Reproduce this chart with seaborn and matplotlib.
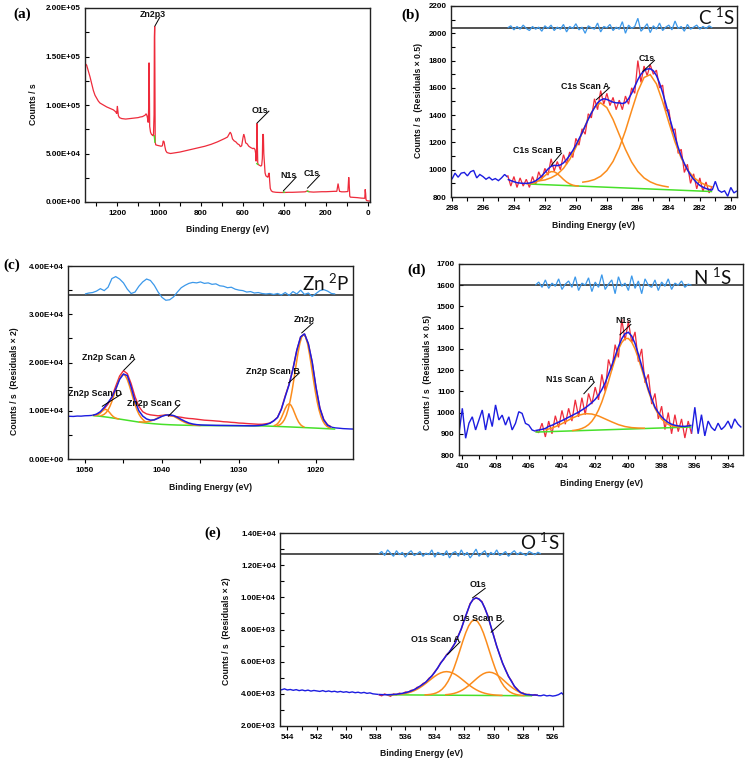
import numpy as np
import matplotlib
matplotlib.use("Agg")
import matplotlib.pyplot as plt
import seaborn as sns
from matplotlib.ticker import MultipleLocator, FuncFormatter

sns.set_theme(style="ticks")
plt.rcParams['font.family'] = ['Liberation Sans', 'DejaVu Sans']
plt.rcParams['font.weight'] = 'bold'
plt.rcParams['mathtext.default'] = 'regular'
plt.rcParams['lines.solid_joinstyle'] = 'miter'
plt.rcParams['lines.solid_capstyle'] = 'butt'

# ---------------- DATA ----------------
# (a) survey: binding energy (eV) and counts (x1000)
a_be = [1355, 1347, 1339, 1331, 1323, 1315, 1307, 1299, 1291, 1283, 1267, 1251, 1235, 1219, 1208, 1203,
        1200, 1198, 1195, 1190, 1179, 1160, 1139, 1120, 1100, 1091, 1080, 1067, 1062, 1058, 1055, 1052,
        1049.5, 1048, 1046.5, 1045, 1041, 1036, 1031, 1027, 1024, 1022.5, 1021, 1019.5, 1018.5, 1016, 1010,
        1000, 990, 984, 980, 976, 972, 968, 962, 955, 945, 930, 900, 870, 840, 810, 780, 750, 720, 700,
        685, 672, 664, 659, 654, 648, 640, 632, 624, 616, 610, 604, 598, 594, 590, 585, 578, 570, 560,
        550, 545, 540, 537, 535, 533, 531, 529, 527, 524, 520, 516, 512, 508, 505, 503, 500, 498, 495,
        492, 488, 482, 478, 475, 472, 470, 467, 462, 455, 440, 420, 400, 380, 360, 340, 320, 300, 290,
        285, 280, 260, 240, 220, 200, 180, 160, 148, 142, 139, 135, 125, 110, 95, 91, 89, 86, 83, 70,
        50, 30, 14, 12, 10, 8, 5, 0, -11]
a_kcps = [143, 141, 135, 129, 122, 115, 110, 107, 104, 102, 100, 98, 96.5, 95, 93, 91,
          99, 95, 89, 87, 86, 85.5, 86, 86.5, 87, 87.6, 88, 89.5, 91, 89, 86, 82,
          100, 143.6, 120, 78, 72, 69.5, 69, 68, 90, 170, 181, 120, 62, 59, 58.5,
          58, 57.5, 58, 63, 62, 57, 53, 51, 50.5, 50, 50.5, 51.5, 53, 54.5, 56, 57.5, 59.5, 62, 64,
          65.5, 67, 70, 72, 70, 65, 63, 62, 60, 59, 57, 58, 66, 70, 67, 61, 60, 57.5, 56,
          55, 55.5, 54, 50, 42, 48, 81, 60, 40, 38.5, 38, 37.5, 37, 38, 45, 70, 69, 50, 40,
          30, 27, 26, 25.5, 29, 30, 22, 14, 11.5, 10.5, 10, 9.8, 9.8, 10, 10, 10.2, 10.4, 10.5, 11.5,
          11, 10.5, 10.2, 10.4, 10.6, 10.6, 10.8, 11, 11, 19, 15, 11, 10.5, 10.5, 10.8, 25.5, 20, 6, 5, 4.8,
          4.5, 4, 3.8, 13, 9, 2.5, 1.5, 1.2, 1]
a_bg_segments = [([1023.5, 1019.5], [69, 61]), ([534, 525], [40, 38.5]),
                 ([407, 396], [10.5, 10]), ([292, 280], [11.2, 10.6])]

# (b) C 1s  (grids: start eV, step eV)
b_raw_left = [930, 975, 945, 975, 980, 955, 985, 995, 940, 965, 950, 930, 945, 925, 935, 920, 940, 965, 945]
b_red = [960, 880, 950, 870, 940, 880, 930, 870, 950, 890,
         985, 930, 1010, 960, 1080, 990, 1060, 1000, 1110, 1040,
         1130, 1090, 1230, 1180, 1300, 1260, 1410, 1380, 1520, 1440,
         1580, 1480, 1560, 1470, 1530, 1440, 1510, 1440, 1540, 1480,
         1600, 1560, 1800, 1640, 1760, 1690, 1770, 1700, 1730, 1600,
         1620, 1430, 1440, 1280, 1300, 1120, 1150, 980, 1040, 900,
         970, 860, 940, 840, 910, 830, 880]
b_env = [930, 920, 912, 905, 902, 900, 900, 902, 908, 918,
         935, 955, 980, 1005, 1025, 1032, 1030, 1035, 1050, 1075,
         1105, 1140, 1180, 1225, 1270, 1320, 1370, 1415, 1455, 1490,
         1510, 1520, 1515, 1505, 1495, 1490, 1490, 1485, 1492, 1520,
         1560, 1610, 1660, 1700, 1725, 1738, 1740, 1725, 1690, 1635,
         1565, 1485, 1400, 1320, 1240, 1165, 1100, 1045, 1000, 960,
         930, 905, 885, 872, 862, 855, 850]
b_raw_right = [850, 915, 850, 835, 845, 805, 870, 830, 845]
b_res = [2040, 2055, 2025, 2050, 2030, 2060, 2035, 2020, 2050, 2030,
         2045, 2015, 2055, 2035, 2060, 2020, 2045, 2030, 2065, 2010,
         2050, 2035, 2070, 2025, 2045, 2000, 2055, 2040, 2030, 2075,
         2010, 2050, 2040, 2065, 2020, 2045, 2030, 2085, 2000, 2060,
         2035, 2050, 2110, 2015, 2040, 2070, 2005, 2055, 2030, 2075,
         2020, 2045, 2060, 2025, 2090, 2035, 2050, 2015, 2065, 2030,
         2045, 2060, 2030, 2050, 2035, 2055, 2040]
b_bg_be = [293.0, 281.2]
b_bg = [895, 840]
b_scanB = [897, 897, 900, 907, 919, 936, 956, 975, 986, 985, 972, 951, 929, 910, 896, 887, 882, 880]
b_scanA = [918, 925, 941, 966, 1010, 1075, 1164, 1268, 1375, 1458, 1490, 1455, 1368, 1257, 1149,
           1056, 987, 940, 911, 892, 881, 873]
b_c1s = [908, 915, 928, 952, 994, 1061, 1159, 1286, 1433, 1575, 1676, 1697, 1629, 1499, 1347,
         1203, 1085, 1000, 944, 908, 887, 873]

# (c) Zn 2p
c_raw_left = [8780, 8850, 8820, 8900, 8880, 8960, 8990, 9050]
c_red = [9050, 9200, 9650, 10400, 11400, 12900, 15100, 17200, 18300, 17700,
         15600, 12900, 10900, 9800, 9350, 9150, 9050, 8950, 9050, 9100,
         8950, 8900, 8750, 8650, 8500, 8400, 8350, 8250, 8150, 8050,
         8000, 7950, 7880, 7820, 7720, 7680, 7600, 7550, 7450, 7420,
         7350, 7300, 7250, 7200, 7200, 7300, 7450, 7900, 8650, 10400,
         13100, 15500, 18700, 22500, 25300, 25900, 23900, 20100, 14800, 10600,
         8200, 7100, 6650]
c_env = [9050, 9300, 9800, 10700, 11700, 12800, 14500, 16500, 17600, 17300,
         14900, 12000, 10000, 8900, 8300, 8050, 8100, 8450, 8850, 9100,
         9150, 9000, 8650, 8200, 7800, 7450, 7250, 7120, 7060, 7030,
         7010, 6990, 6970, 6960, 6950, 6940, 6930, 6920, 6910, 6900,
         6890, 6880, 6880, 6920, 7000, 7150, 7400, 7900, 8600, 10300,
         12900, 15400, 18600, 22500, 25300, 25950, 23900, 20100, 14800, 10500,
         8100, 7000, 6600]
c_raw_right = [6600, 6450, 6380, 6300, 6260, 6220, 6200, 6170]
c_res = [34200, 34400, 34500, 34800, 35300, 34900, 35600, 37400, 37800, 37300,
         36500, 35200, 34300, 34600, 35800, 36700, 37300, 37000, 36000, 34600,
         33500, 32900, 33000, 33600, 34600, 35500, 36000, 36400, 36600, 36500,
         36700, 36400, 36500, 36200, 36300, 35900, 35800, 35500, 35600, 35200,
         35000, 34900, 34600, 34700, 34400, 34500, 34300, 34200, 34300, 34100,
         34300, 34000, 34500, 33900, 34700, 34200, 35000, 34100, 34400, 33700,
         34300, 34900, 35100, 34800, 34300, 34200]
c_bg_be = [1049, 1048, 1047, 1046, 1045, 1044, 1043, 1042, 1041, 1040, 1039, 1038, 1037, 1036,
           1035, 1030, 1027, 1025, 1022, 1020, 1017.5]
c_bg = [9000, 8850, 8650, 8400, 8150, 7900, 7650, 7450, 7300, 7180, 7100, 7040, 7000, 6960,
        6930, 6900, 6860, 6750, 6550, 6400, 6200]
c_scanD = [8999, 9032, 9172, 9454, 9840, 10183, 10290, 10077, 9628, 9136, 8748, 8502, 8363, 8280]
c_scanA = [8960, 9062, 9268, 9623, 10163, 10937, 11937, 13115, 14397, 15632, 16669, 17349, 17550,
           17243, 16457, 15314, 13973, 12585, 11301, 10195, 9315, 8669, 8208, 7830, 7624]
c_scanC = [7690, 7657, 7694, 7858, 8153, 8538, 8904, 9141, 9128, 8866, 8428, 7957, 7553, 7269,
           7088, 6996, 6947]
c_scanB = [6889, 7021, 7302, 7807, 8553, 9495, 10458, 11184, 11445, 11149, 10388, 9390, 8413,
           7632, 7092, 6776, 6609]
c_main = [6884, 6991, 7205, 7574, 8173, 9083, 10396, 12136, 14279, 16771, 19378, 21889, 23975,
          25342, 25812, 25307, 23905, 21784, 19238, 16596, 14069, 11891, 10116, 8768, 7823, 7189,
          6785, 6536, 6394]

# (d) N 1s
d_raw_left = [902, 1020, 879, 950, 980, 918, 965, 1012, 918, 996, 934, 1036, 965, 988, 941, 980,
              918, 949, 1004, 996, 949, 941, 918, 912]
d_red = [915, 905, 950, 885, 960, 900, 985, 930, 1010, 945, 1020, 960, 1060, 980, 1070, 990,
         1090, 1040, 1120, 1060, 1180, 1100, 1250, 1200, 1320, 1260, 1440, 1340, 1430, 1330,
         1380, 1240, 1300, 1140, 1180, 1040, 1090, 970, 1030, 920, 1000, 900, 990, 910, 970,
         880, 960, 900]
d_env = [915, 918, 921, 925, 935, 940, 948, 955, 962, 970, 978, 986, 994, 1002, 1012, 1022,
         1034, 1047, 1062, 1082, 1108, 1140, 1180, 1222, 1265, 1310, 1348, 1372, 1378, 1360,
         1325, 1275, 1220, 1165, 1110, 1065, 1025, 1000, 980, 965, 953, 945, 940, 937, 935,
         935, 937, 940]
d_raw_right = [900, 1025, 900, 990, 890, 960, 930, 915, 950, 920, 935, 960, 925, 970, 945, 930]
d_res = [1600, 1615, 1590, 1625, 1585, 1610, 1595, 1630, 1580, 1605,
         1620, 1590, 1640, 1575, 1610, 1600, 1635, 1570, 1615, 1590,
         1650, 1580, 1605, 1625, 1560, 1640, 1595, 1610, 1575, 1645,
         1585, 1620, 1560, 1630, 1600, 1590, 1625, 1575, 1615, 1595,
         1630, 1580, 1610, 1600, 1620, 1590, 1605, 1600]
d_bg_be = [405.6, 396.2]
d_bg = [908, 932]
d_scanA = [918, 927, 940, 956, 973, 987, 995, 993, 984, 970, 956, 943, 934, 929, 927, 926]
d_main = [915, 917, 920, 925, 932, 943, 959, 982, 1012, 1050, 1096, 1147, 1201, 1252, 1298,
          1330, 1349, 1349, 1332, 1300, 1256, 1205, 1153, 1102, 1058, 1020, 992, 969, 955,
          944, 938, 935, 933, 932]

# (e) O 1s
e_raw_left = [4290, 4250, 4310, 4240, 4270, 4220, 4260, 4200, 4240, 4190, 4230, 4170, 4210, 4180,
              4150, 4200, 4140, 4180, 4130, 4160, 4110, 4150, 4100, 4130, 4080, 4120, 4070, 4100,
              4050, 4090, 4030, 4060, 4000, 3980, 3960]
e_red = [3940, 3880, 3990, 3920, 3850, 3990, 3940, 4040, 3990, 4110,
         4090, 4220, 4230, 4400, 4450, 4640, 4710, 4960, 5090, 5380,
         5590, 5940, 6130, 6440, 6590, 6920, 7170, 7640, 8020, 8620,
         9070, 9620, 9850, 9990, 9870, 9740, 9300, 8870, 8190, 7620,
         6950, 6460, 5890, 5520, 5070, 4820, 4450, 4300, 4070, 4050,
         3930, 3970, 3900, 3950, 3890]
e_env = [3960, 3950, 3945, 3945, 3950, 3960, 3975, 4000, 4030, 4070,
         4120, 4180, 4260, 4360, 4480, 4600, 4740, 4920, 5120, 5340,
         5620, 5900, 6160, 6400, 6620, 6880, 7200, 7600, 8050, 8580,
         9100, 9580, 9880, 9960, 9900, 9700, 9330, 8830, 8220, 7580,
         6980, 6420, 5920, 5480, 5100, 4780, 4480, 4260, 4100, 4010,
         3960, 3940, 3930, 3925, 3920]
e_raw_right = [3890, 3880, 3930, 3870, 3900, 3860, 3890, 3950, 4060, 3880]
e_res = [12700, 12850, 12600, 12950, 12750, 12550, 12900, 12650, 12800, 12500,
         12750, 12900, 12600, 12700, 12850, 12550, 12750, 12650, 12950, 12500,
         12800, 12700, 12600, 12900, 12450, 12750, 12850, 12550, 12950, 12600,
         12800, 12450, 12700, 13000, 12550, 12750, 12900, 12500, 12800, 12650,
         12950, 12600, 12700, 12850, 12550, 12750, 12900, 12650, 12800, 12700,
         12600, 12850, 12750, 12650, 12800, 12700]
e_bg_be = [537.2, 527.4]
e_bg = [3940, 3880]
e_scanA = [3948, 3952, 3960, 3974, 3995, 4024, 4065, 4121, 4194, 4284, 4392, 4517, 4657, 4803,
           4950, 5088, 5209, 5302, 5361, 5381, 5359, 5297, 5202, 5079, 4938, 4789, 4640, 4498,
           4371, 4260, 4167, 4092, 4034, 3990, 3958, 3935, 3919, 3908, 3901]
e_main = [3936, 3945, 3964, 3998, 4056, 4147, 4288, 4493, 4773, 5140, 5594, 6121, 6690, 7265,
          7796, 8224, 8503, 8599, 8501, 8219, 7788, 7255, 6677, 6106, 5577, 5120, 4751, 4468,
          4261, 4118, 4024, 3964, 3927, 3906, 3894]
e_scanB = [3943, 3960, 3985, 4024, 4080, 4155, 4252, 4373, 4514, 4669, 4833, 4993, 5137, 5250,
           5322, 5347, 5320, 5246, 5129, 4983, 4821, 4655, 4497, 4354, 4231, 4130, 4053, 3995,
           3954, 3926]

# annotations: label, text x, text y, leader start x, y, leader end x, y
a_notes = [("Zn2p3", 1032, 192.8e3, 1021, 181e3, 995, 191e3),
           ("O1s", 517, 94.8e3, 532, 81e3, 472, 94e3),
           ("N1s", 381, 27.8e3, 405, 11.3e3, 341, 26e3),
           ("C1s", 267, 29.6e3, 290, 14e3, 229, 27.8e3)]
b_notes = [("C1s Scan B", 292.47, 1139, 291.6, 1030, 290.9, 1125),
           ("C1s Scan A", 289.4, 1613, 288.7, 1511, 287.8, 1604),
           ("C1s", 285.45, 1817, 285.7, 1718, 284.9, 1804)]
c_notes = [("Zn2p Scan A", 1046.9, 21100, 1045.0, 18330, 1043.5, 20750),
           ("Zn2p Scan D", 1048.7, 13660, 1047.8, 10880, 1045.2, 13500),
           ("Zn2p Scan C", 1041.0, 11440, 1039.2, 8820, 1037.7, 11230),
           ("Zn2p Scan B", 1025.65, 18130, 1023.6, 15720, 1022.1, 17920),
           ("Zn2p", 1021.5, 28820, 1021.9, 26070, 1020.35, 28270)]
d_notes = [("N1s", 400.3, 1433, 400.53, 1365, 399.83, 1417),
           ("N1s Scan A", 403.5, 1157, 402.7, 1087, 402.03, 1145)]
e_notes = [("O1s", 531.1, 10780, 531.46, 9950, 530.55, 10580),
           ("O1s Scan B", 531.06, 8707, 530.2, 7810, 529.3, 8560),
           ("O1s Scan A", 533.96, 7355, 533.16, 6420, 532.26, 7250)]

# ---------------- STYLE ----------------
RED = "#ee2b3b"
BLUE = "#1c1ce0"
ORANGE = "#fb8c1c"
GREEN = "#47e02a"
RESID = "#3b98ea"
W, H = 746, 761

fig = plt.figure(figsize=(W / 100, H / 100), dpi=100)


def box(l, t, r, b):
    return [l / W, 1 - b / H, (r - l) / W, (b - t) / H]


def grid(start, step, vals):
    return np.round(start - step * np.arange(len(vals)), 4)


def line(ax, x, y, color, lw=1.0, z=2):
    sns.lineplot(x=np.asarray(x, float), y=np.asarray(y, float), ax=ax, color=color,
                 linewidth=lw, estimator=None, sort=False, zorder=z, marker=None)


def style_axes(ax, xlim, ylim, xmaj, xmin, ymaj, ymin, yfmt):
    ax.set_xlim(*xlim)
    ax.set_ylim(*ylim)
    ax.xaxis.set_major_locator(MultipleLocator(xmaj))
    ax.xaxis.set_minor_locator(MultipleLocator(xmin))
    ax.yaxis.set_major_locator(MultipleLocator(ymaj))
    if ymin:
        ax.yaxis.set_minor_locator(MultipleLocator(ymin))
    ax.yaxis.set_major_formatter(FuncFormatter(yfmt))
    ax.xaxis.set_major_formatter(FuncFormatter(lambda v, p: f"{v:.0f}"))
    ax.tick_params(axis='x', which='both', direction='out', length=3, width=0.8,
                   labelsize=5.8, pad=3, colors='black')
    ax.tick_params(axis='y', which='both', direction='in', length=3, width=0.8,
                   labelsize=5.8, pad=3, colors='black')
    for s in ax.spines.values():
        s.set_visible(True)
        s.set_color('#222222')
        s.set_linewidth(1.0)
    ax.set_xlabel("")
    ax.set_ylabel("")
    ax.set_facecolor('white')


def notes(ax, items):
    for t, tx, ty, x1, y1, x2, y2 in items:
        ax.plot([x1, x2], [y1, y2], color='black', lw=0.7, zorder=6)
        ax.text(tx, ty, t, ha='center', va='center', fontsize=6.4, fontweight='bold',
                color='#111111', zorder=7)


def sci(v, p):
    return f"{v:.2E}"


def plain(v, p):
    return f"{v:.0f}"


def ftext(px, py, s, **kw):
    fig.text(px / W, 1 - py / H, s, **kw)


# ---------------- (a) ----------------
ax = fig.add_axes(box(85, 8, 370, 202))
line(ax, a_be, np.array(a_kcps) * 1000, RED, 0.9)
for xs, ys in a_bg_segments:
    line(ax, xs, np.array(ys) * 1000, GREEN, 1.0, 3)
style_axes(ax, (1355, -11), (0, 2.0e5), 200, 100, 5e4, 2.5e4, sci)
notes(ax, a_notes)

# ---------------- (b) ----------------
ax = fig.add_axes(box(451, 6, 737, 197))
ax.axhline(2040, color='#222222', lw=1.1, zorder=1)
line(ax, grid(294.4, 0.2, b_res), b_res, RESID, 0.9)
line(ax, grid(298.0, 0.2, b_raw_left), b_raw_left, BLUE, 1.0)
line(ax, grid(281.2, 0.2, b_raw_right), b_raw_right, BLUE, 1.0)
line(ax, grid(294.4, 0.2, b_red), b_red, RED, 0.9)
line(ax, b_bg_be, b_bg, GREEN, 1.1, 3)
line(ax, grid(293.2, 0.2, b_scanB), b_scanB, ORANGE, 1.1, 4)
line(ax, grid(292.4, 0.4, b_scanA), b_scanA, ORANGE, 1.1, 4)
line(ax, grid(289.6, 0.4, b_c1s), b_c1s, ORANGE, 1.1, 4)
line(ax, grid(294.4, 0.2, b_env), b_env, BLUE, 1.1, 5)
style_axes(ax, (298.06, 279.6), (800, 2200), 2, 1, 200, 100, plain)
notes(ax, b_notes)

# ---------------- (c) ----------------
ax = fig.add_axes(box(68, 266, 353, 459))
ax.axhline(34000, color='#222222', lw=1.1, zorder=1)
line(ax, grid(1050.0, 0.5, c_res), c_res, RESID, 0.9)
line(ax, grid(1052.5, 0.5, c_raw_left), c_raw_left, BLUE, 1.0)
line(ax, grid(1018.0, 0.5, c_raw_right), c_raw_right, BLUE, 1.0)
line(ax, grid(1049.0, 0.5, c_red), c_red, RED, 1.0)
line(ax, c_bg_be, c_bg, GREEN, 1.1, 3)
line(ax, grid(1048.8, 0.25, c_scanD), c_scanD, ORANGE, 1.1, 4)
line(ax, grid(1048.0, 0.25, c_scanA), c_scanA, ORANGE, 1.1, 4)
line(ax, grid(1043.0, 0.5, c_scanC), c_scanC, ORANGE, 1.1, 4)
line(ax, grid(1025.5, 0.25, c_scanB), c_scanB, ORANGE, 1.1, 4)
line(ax, grid(1025.1, 0.25, c_main), c_main, ORANGE, 1.1, 4)
line(ax, grid(1049.0, 0.5, c_env), c_env, BLUE, 1.1, 5)
style_axes(ax, (1052.2, 1015.2), (0, 4.0e4), 10, 5, 1e4, 5e3, sci)
notes(ax, c_notes)

# ---------------- (d) ----------------
ax = fig.add_axes(box(459, 264, 743, 455))
ax.axhline(1600, color='#222222', lw=1.1, zorder=1)
line(ax, grid(405.6, 0.2, d_res), d_res, RESID, 0.9)
line(ax, grid(410.2, 0.2, d_raw_left), d_raw_left, BLUE, 1.0)
line(ax, grid(396.2, 0.2, d_raw_right), d_raw_right, BLUE, 1.0)
line(ax, grid(405.6, 0.2, d_red), d_red, RED, 0.9)
line(ax, d_bg_be, d_bg, GREEN, 1.1, 3)
line(ax, grid(405.0, 0.4, d_scanA), d_scanA, ORANGE, 1.1, 4)
line(ax, grid(403.4, 0.2, d_main), d_main, ORANGE, 1.1, 4)
line(ax, grid(405.6, 0.2, d_env), d_env, BLUE, 1.1, 5)
style_axes(ax, (410.2, 393.1), (800, 1700), 2, 1, 100, None, plain)
notes(ax, d_notes)

# ---------------- (e) ----------------
ax = fig.add_axes(box(280, 533, 563, 726))
ax.axhline(12680, color='#222222', lw=1.1, zorder=1)
line(ax, grid(537.8, 0.2, e_res), e_res, RESID, 0.9)
line(ax, grid(544.6, 0.2, e_raw_left), e_raw_left, BLUE, 1.0)
line(ax, grid(527.0, 0.2, e_raw_right), e_raw_right, BLUE, 1.0)
line(ax, grid(537.8, 0.2, e_red), e_red, RED, 1.0)
line(ax, e_bg_be, e_bg, GREEN, 1.1, 3)
line(ax, grid(537.0, 0.2, e_scanA), e_scanA, ORANGE, 1.1, 4)
line(ax, grid(534.7, 0.2, e_main), e_main, ORANGE, 1.1, 4)
line(ax, grid(533.3, 0.2, e_scanB), e_scanB, ORANGE, 1.1, 4)
line(ax, grid(537.8, 0.2, e_env), e_env, BLUE, 1.1, 5)
style_axes(ax, (544.5, 525.3), (2000, 14000), 2, 1, 2000, 1000, sci)
notes(ax, e_notes)

# ---------------- figure texts ----------------
lab = dict(fontsize=6.2, fontweight='bold', color='#111111', ha='center', va='center')
ftext(227.5, 230, "Binding Energy (eV)", **lab)
ftext(594, 226, "Binding Energy (eV)", **lab)
ftext(210.5, 487, "Binding Energy (eV)", **lab)
ftext(601, 483, "Binding Energy (eV)", **lab)
ftext(421.5, 753, "Binding Energy (eV)", **lab)

ftext(33, 104, "Counts / s", rotation=90, **lab)
ftext(418, 100, "Counts / s  (Residuals \u00d7 0.5)", rotation=90, **lab)
ftext(15, 381, "Counts / s  (Residuals \u00d7 2)", rotation=90, **lab)
ftext(427, 373, "Counts / s  (Residuals \u00d7 0.5)", rotation=90, **lab)
ftext(227, 631, "Counts / s  (Residuals \u00d7 2)", rotation=90, **lab)

pl = dict(fontsize=11, fontweight='bold', family='Liberation Serif', color='black',
          ha='center', va='center')
ftext(22, 14, "(a)", **pl)
ftext(411, 15, "(b)", **pl)
ftext(12, 265, "(c)", **pl)
ftext(417, 270, "(d)", **pl)
ftext(213, 533, "(e)", **pl)

el = dict(fontsize=13.5, fontweight='normal', family=['Lato', 'DejaVu Sans'], color='#111111',
          ha='center', va='center')
ftext(716, 17, "C $^{1}$S", **el)
ftext(326, 283, "Zn $^{2}$P", **el)
ftext(712, 277, "N $^{1}$S", **el)
ftext(540, 542, "O $^{1}$S", **el)

fig.savefig("out.png", dpi=100, facecolor='white')
